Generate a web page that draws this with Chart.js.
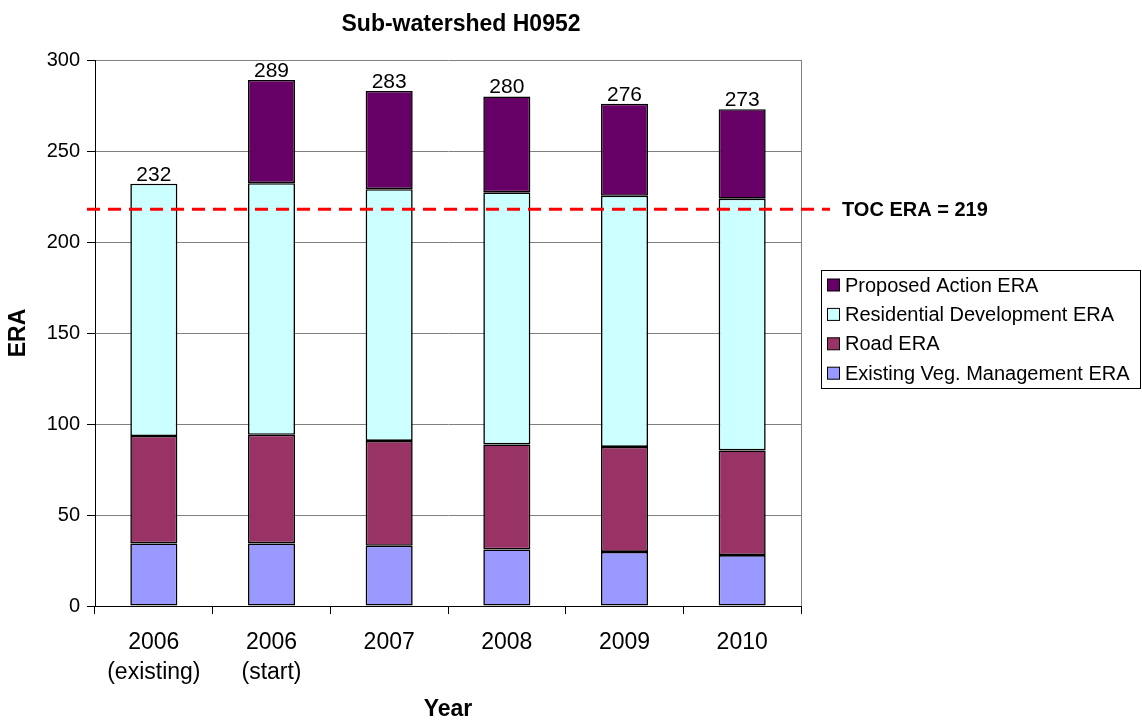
<!DOCTYPE html>
<html>
<head>
<meta charset="utf-8">
<script src="https://cdn.jsdelivr.net/npm/chart.js@4.4.1/dist/chart.umd.min.js"></script>
<style>
html,body{margin:0;padding:0;background:#fff;}
#wrap{width:1142px;height:721px;position:relative;}
</style>
</head>
<body>
<div id="wrap"><canvas id="c" width="1142" height="721"></canvas></div>
<script>
// ---- data ----
const categories = [['2006','(existing)'], ['2006','(start)'], '2007', '2008', '2009', '2010'];
const vegValues = [34.4, 34.4, 33.1, 31.1, 29.7, 28.0];
const roadValues = [59.0, 59.7, 57.6, 57.7, 57.7, 57.5];
const residentialValues = [138.6, 138.2, 138.3, 138.5, 138.0, 138.3];
const proposedValues = [null, 56.7, 54.0, 52.7, 50.6, 49.2];
const tocValue = 218;
const tocLabel = 'TOC ERA = 219';
const chartTitle = 'Sub-watershed H0952';
const yTitle = 'ERA';
const xTitle = 'Year';
const yMin = 0, yMax = 300, yStep = 50;

const FONT = '"Liberation Sans", Arial, sans-serif';

const extrasPlugin = {
  id: 'extras',
  afterDraw(chart) {
    const {ctx, chartArea, scales} = chart;
    const y = scales.y, x = scales.x;
    ctx.save();
    // right border of plot
    ctx.strokeStyle = '#808080';
    ctx.lineWidth = 1;
    ctx.beginPath();
    ctx.moveTo(Math.round(chartArea.right) + 0.5, chartArea.top);
    ctx.lineTo(Math.round(chartArea.right) + 0.5, chartArea.bottom);
    ctx.stroke();

    // totals above bars
    ctx.fillStyle = '#000';
    ctx.font = '21px ' + FONT;
    ctx.textAlign = 'center';
    ctx.textBaseline = 'alphabetic';
    categories.forEach((c, i) => {
      let total = 0;
      chart.data.datasets.forEach(ds => { const v = ds.data[i]; if (v != null) total += v; });
      const px = x.getPixelForValue(i);
      const py = y.getPixelForValue(total);
      ctx.fillText(String(Math.round(total)), px, py - 3);
    });

    // TOC dashed line
    const ty = y.getPixelForValue(tocValue);
    ctx.strokeStyle = '#FF0000';
    ctx.lineWidth = 3;
    ctx.setLineDash([13, 8]);
    ctx.beginPath();
    ctx.moveTo(chartArea.left - 8, ty);
    ctx.lineTo(chartArea.right + 29, ty);
    ctx.stroke();
    ctx.setLineDash([]);
    ctx.font = 'bold 20px ' + FONT;
    ctx.textAlign = 'left';
    ctx.textBaseline = 'middle';
    ctx.fillStyle = '#000';
    ctx.fillText(tocLabel, chartArea.right + 41, ty + 1);

    // title
    ctx.font = 'bold 23px ' + FONT;
    ctx.textAlign = 'center';
    ctx.textBaseline = 'middle';
    ctx.fillText(chartTitle, 461, 25);

    // legend (reverse order)
    const bx = 821, by = 270, bw = 319, bh = 118;
    ctx.strokeStyle = '#000';
    ctx.lineWidth = 1;
    ctx.strokeRect(bx + 0.5, by + 0.5, bw, bh);
    ctx.font = '20px ' + FONT;
    ctx.textAlign = 'left';
    ctx.textBaseline = 'middle';
    const items = chart.data.datasets.slice().reverse();
    items.forEach((ds, k) => {
      const cy = by + 15 + k * 29.4;
      ctx.fillStyle = ds.backgroundColor;
      ctx.fillRect(bx + 6.5, cy - 6, 12, 12);
      ctx.strokeStyle = '#000';
      ctx.strokeRect(bx + 6.5, cy - 6, 12, 12);
      ctx.fillStyle = '#000';
      ctx.fillText(ds.label, bx + 24, cy + 1);
    });
    ctx.restore();
  }
};

const barCommon = { borderColor: '#000', borderWidth: 1.6, borderSkipped: false, barPercentage: 0.4, categoryPercentage: 1.0 };

new Chart(document.getElementById('c'), {
  type: 'bar',
  data: {
    labels: categories,
    datasets: [
      Object.assign({ label: 'Existing Veg. Management ERA', data: vegValues, backgroundColor: '#9999FF' }, barCommon),
      Object.assign({ label: 'Road ERA', data: roadValues, backgroundColor: '#993366' }, barCommon),
      Object.assign({ label: 'Residential Development ERA', data: residentialValues, backgroundColor: '#CCFFFF' }, barCommon),
      Object.assign({ label: 'Proposed Action ERA', data: proposedValues, backgroundColor: '#660066' }, barCommon)
    ]
  },
  options: {
    responsive: false,
    animation: false,
    devicePixelRatio: 1,
    layout: { padding: { left: 0, right: 341, top: 60, bottom: 0 } },
    plugins: { legend: { display: false }, title: { display: false }, tooltip: { enabled: false } },
    scales: {
      x: {
        stacked: true,
        grid: { display: true, drawOnChartArea: false, drawTicks: true, tickLength: 8, tickColor: '#000', offset: true },
        border: { display: true, color: '#000', width: 1 },
        ticks: { color: '#000', font: { family: FONT, size: 23, lineHeight: 1.3 }, padding: 14, maxRotation: 0, autoSkip: false },
        title: { display: true, text: xTitle, color: '#000', font: { family: FONT, size: 23, weight: 'bold', lineHeight: 1 }, padding: 0 },
        afterFit(s) { s.height = 115; }
      },
      y: {
        stacked: true,
        min: yMin, max: yMax,
        grid: { color: '#808080', lineWidth: 1, tickLength: 8, tickColor: '#000', drawTicks: true },
        border: { display: true, color: '#000', width: 1 },
        ticks: { stepSize: yStep, color: '#000', font: { family: FONT, size: 20 }, padding: 7 },
        title: { display: true, text: yTitle, color: '#000', font: { family: FONT, size: 23, weight: 'bold', lineHeight: 1 }, padding: { top: 7, bottom: 0 } },
        afterFit(s) { s.width = 95; }
      }
    }
  },
  plugins: [extrasPlugin]
});
</script>
</body>
</html>
